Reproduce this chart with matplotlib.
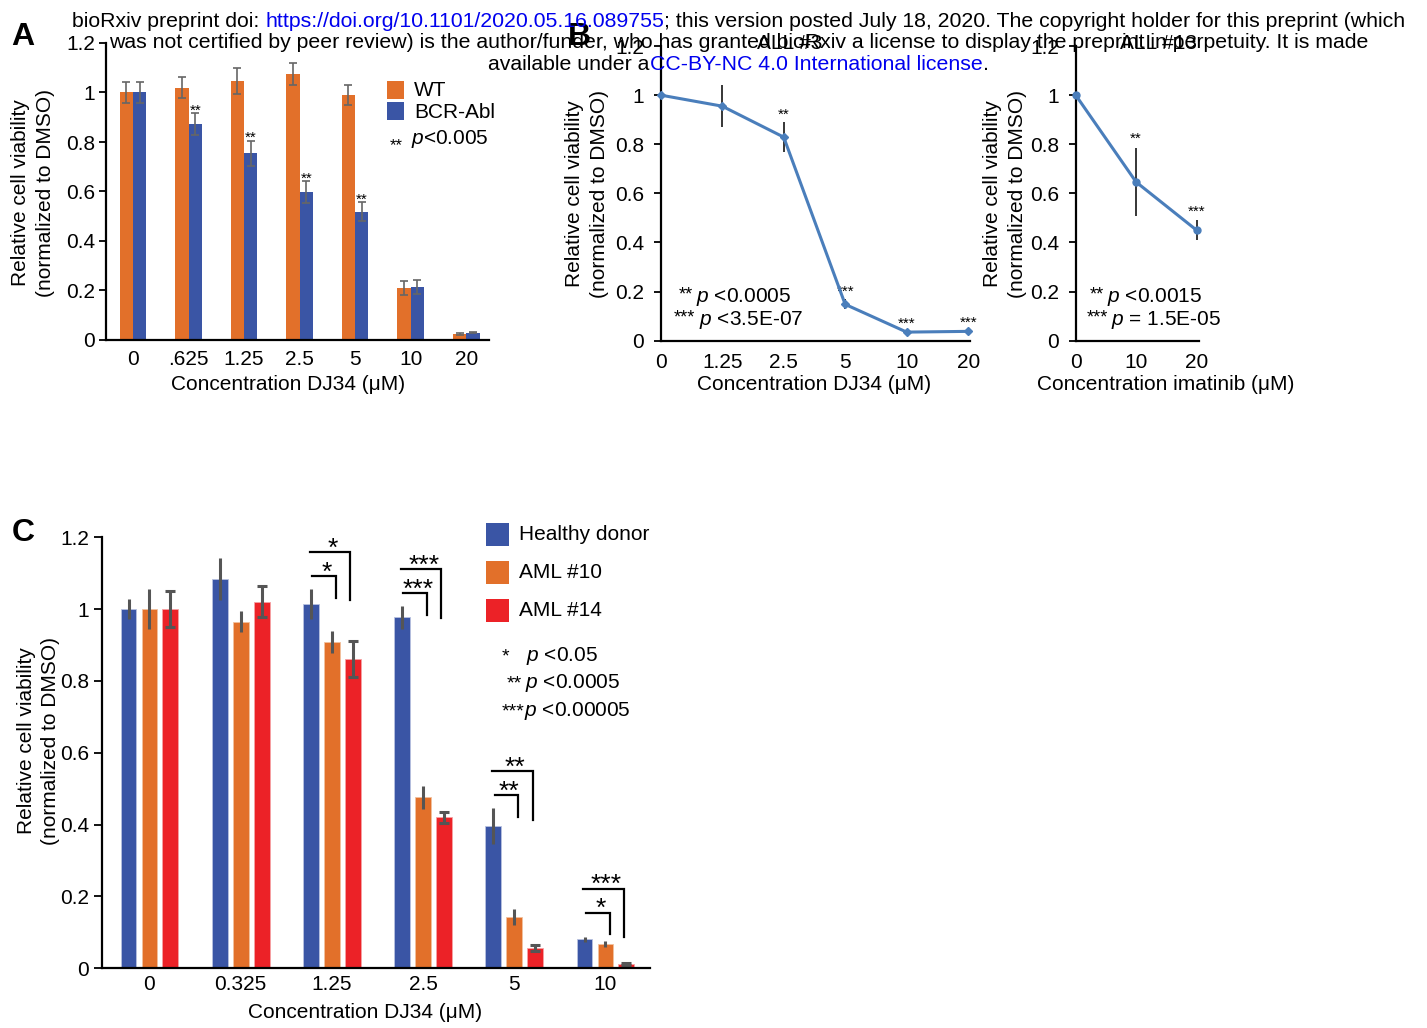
import matplotlib
matplotlib.use('Agg')
import matplotlib.pyplot as plt
from matplotlib.patches import Rectangle
from matplotlib.transforms import IdentityTransform
import numpy as np

plt.rcParams['font.family'] = ['Liberation Sans', 'DejaVu Sans']
plt.rcParams['mathtext.fontset'] = 'custom'
plt.rcParams['mathtext.rm'] = 'Liberation Sans'
plt.rcParams['mathtext.it'] = 'Liberation Sans:italic'

# ---------------- data ----------------
# Panel A
conc_A = ["0", ".625", "1.25", "2.5", "5", "10", "20"]
wt_A = [1.0, 1.02, 1.045, 1.075, 0.99, 0.21, 0.025]
wt_err_A = [0.042, 0.043, 0.052, 0.046, 0.04, 0.027, 0.003]
bcr_A = [1.0, 0.872, 0.754, 0.598, 0.518, 0.215, 0.03]
bcr_err_A = [0.042, 0.044, 0.052, 0.044, 0.038, 0.028, 0.003]
sig_A = ["", "**", "**", "**", "**", "", ""]

# Panel B (DJ34)
conc_B1 = ["0", "1.25", "2.5", "5", "10", "20"]
via_B1 = [1.0, 0.955, 0.829, 0.148, 0.035, 0.038]
err_B1 = [0.0, 0.085, 0.061, 0.02, 0.005, 0.005]
sig_B1 = ["", "", "**", "***", "***", "***"]

# Panel B (imatinib)
conc_B2 = ["0", "10", "20"]
via_B2 = [1.0, 0.646, 0.45]
err_B2 = [0.0, 0.14, 0.04]
sig_B2 = ["", "**", "***"]

# Panel C
conc_C = ["0", "0.325", "1.25", "2.5", "5", "10"]
healthy = [1.0, 1.083, 1.014, 0.977, 0.396, 0.081]
healthy_err = [0.027, 0.058, 0.043, 0.032, 0.051, 0.007]
aml10 = [1.0, 0.965, 0.909, 0.476, 0.142, 0.068]
aml10_err = [0.055, 0.03, 0.03, 0.032, 0.022, 0.009]
aml14 = [1.0, 1.021, 0.86, 0.42, 0.056, 0.012]
aml14_err = [0.05, 0.044, 0.05, 0.016, 0.008, 0.004]
# significance brackets: (group index, inner label, outer label)
brackets_C = [(2, "*", "*"), (3, "***", "***"), (4, "**", "**"), (5, "*", "***")]

yticks = [0, 0.2, 0.4, 0.6, 0.8, 1.0, 1.2]
ytick_labels = ["0", "0.2", "0.4", "0.6", "0.8", "1", "1.2"]

# ---------------- styles ----------------
ORANGE = '#E2702A'
BLUE = '#3A55A5'
RED = '#EC2227'
LINE = '#4A7EBB'
LINK = '#0000EE'
FS = 15

W, H = 1427, 1028
fig = plt.figure(figsize=(W / 100, H / 100), dpi=100)


def ax_px(l, t, r, b):
    return fig.add_axes([l / W, 1 - b / H, (r - l) / W, (b - t) / H])


def txt(x, y, s, **kw):
    return fig.text(x / W, 1 - y / H, s, **kw)


def rect(x0, y0, x1, y1, color):
    fig.add_artist(Rectangle((x0 / W, 1 - y1 / H), (x1 - x0) / W, (y1 - y0) / H,
                             transform=fig.transFigure, color=color, lw=0))


def style(ax, ypad):
    for s in ['top', 'right']:
        ax.spines[s].set_visible(False)
    for s in ['left', 'bottom']:
        ax.spines[s].set_linewidth(1.6)
    ax.set_ylim(0, 1.2)
    ax.set_yticks(yticks)
    ax.set_yticklabels(ytick_labels)
    ax.tick_params(axis='y', direction='out', length=5, width=1.3, labelsize=FS, pad=ypad)
    ax.tick_params(axis='x', length=0, labelsize=FS)
    ax.patch.set_alpha(0)


YLAB = "Relative cell viability\n(normalized to DMSO)"

# ---------------- Panel A ----------------
axA = ax_px(106, 43, 489, 340)
style(axA, 3)
xA = np.arange(len(conc_A))
ekA = dict(ecolor='#666666', elinewidth=1.2, capsize=3, capthick=1.2)
axA.bar(xA - 0.12, wt_A, 0.24, color=ORANGE, yerr=wt_err_A, error_kw=ekA)
axA.bar(xA + 0.12, bcr_A, 0.24, color=BLUE, yerr=bcr_err_A, error_kw=ekA)
axA.set_xlim(-0.486, 6.41)
axA.set_xticks(xA)
axA.set_xticklabels(conc_A)
axA.tick_params(axis='x', pad=7)
for i, s in enumerate(sig_A):
    if s:
        axA.text(i + 0.12, bcr_A[i] + bcr_err_A[i] - 0.005, s, ha='center', va='baseline',
                 fontsize=11)
txt(288.5, 385, "Concentration DJ34 (μM)", ha='center', va='center', fontsize=FS)
txt(33, 193, YLAB, rotation=90, ha='center', va='center', multialignment='center',
    fontsize=FS, linespacing=1.35)
# legend A
rect(387, 81, 404, 99, ORANGE)
rect(387, 102, 404, 120, BLUE)
txt(414, 90, "WT", ha='left', va='center', fontsize=FS)
txt(414, 112, "BCR-Abl", ha='left', va='center', fontsize=FS)
txt(403, 150, "**", ha='right', va='baseline', fontsize=12)
txt(411, 144, r"$p$<0.005", ha='left', va='baseline', fontsize=FS)

# ---------------- Panel B (DJ34) ----------------
axB1 = ax_px(660.7, 46, 970, 340.7)
style(axB1, 7)
xB1 = np.arange(len(conc_B1))
axB1.errorbar(xB1, via_B1, yerr=err_B1, color=LINE, lw=2.2, marker='D', ms=4.5,
              ecolor='black', elinewidth=1.1, capsize=0, clip_on=False, zorder=3)
axB1.set_xlim(0, 5.03)
axB1.set_xticks(xB1)
axB1.set_xticklabels(conc_B1)
axB1.tick_params(axis='x', pad=9)
for i, s in enumerate(sig_B1):
    if s:
        axB1.text(i, via_B1[i] + err_B1[i] + 0.03, s, ha='center', va='center', fontsize=11)
txt(814, 385, "Concentration DJ34 (μM)", ha='center', va='center', fontsize=FS)
txt(587, 194, YLAB, rotation=90, ha='center', va='center', multialignment='center',
    fontsize=FS, linespacing=1.35)
txt(790, 49, "ALL #3", ha='center', va='baseline', fontsize=FS)
txt(693, 299, "**", ha='right', va='baseline', fontsize=13)
txt(696, 301.5, r"$p$ <0.0005", ha='left', va='baseline', fontsize=FS)
txt(695, 322, "***", ha='right', va='baseline', fontsize=13)
txt(699, 325, r"$p$ <3.5E-07", ha='left', va='baseline', fontsize=FS)

# ---------------- Panel B (imatinib) ----------------
axB2 = ax_px(1075.7, 46, 1199, 340.7)
style(axB2, 7)
xB2 = np.arange(len(conc_B2))
axB2.errorbar(xB2, via_B2, yerr=err_B2, color=LINE, lw=2.2, marker='o', ms=5,
              ecolor='black', elinewidth=1.1, capsize=0, clip_on=False, zorder=3)
axB2.set_xlim(0, 2.04)
axB2.set_xticks(xB2)
axB2.set_xticklabels(conc_B2)
axB2.tick_params(axis='x', pad=9)
for i, s in enumerate(sig_B2):
    if s:
        axB2.text(i, via_B2[i] + err_B2[i] + 0.035, s, ha='center', va='center', fontsize=11)
txt(1166, 385, "Concentration imatinib (μM)", ha='center', va='center', fontsize=FS)
txt(1005, 194, YLAB, rotation=90, ha='center', va='center', multialignment='center',
    fontsize=FS, linespacing=1.35)
txt(1159, 49, "ALL #13", ha='center', va='baseline', fontsize=FS)
txt(1104, 299, "**", ha='right', va='baseline', fontsize=13)
txt(1107, 301.5, r"$p$ <0.0015", ha='left', va='baseline', fontsize=FS)
txt(1108, 322, "***", ha='right', va='baseline', fontsize=13)
txt(1111, 325, r"$p$ = 1.5E-05", ha='left', va='baseline', fontsize=FS)

# ---------------- Panel C ----------------
axC = ax_px(101.7, 537.2, 650, 968.3)
style(axC, 3)
axC.tick_params(axis='y', length=6)
xC = np.arange(len(conc_C))
bw, off = 0.175, 0.23
ek_nocap = dict(ecolor='#555555', elinewidth=2.2, capsize=0)
ek_cap = dict(ecolor='#555555', elinewidth=2.2, capsize=3.5, capthick=2.2)
axC.bar(xC - off, healthy, bw, color=BLUE, yerr=healthy_err, error_kw=ek_nocap,
        edgecolor='#B8C2E0', linewidth=0.6)
axC.bar(xC, aml10, bw, color=ORANGE, yerr=aml10_err, error_kw=ek_nocap,
        edgecolor='#F2C19E', linewidth=0.6)
axC.bar(xC + off, aml14, bw, color=RED, yerr=aml14_err, error_kw=ek_cap,
        edgecolor='#F5A3A5', linewidth=0.6)
axC.set_xlim(-0.524, 5.488)
axC.set_xticks(xC)
axC.set_xticklabels(conc_C)
axC.tick_params(axis='x', pad=5)
for g, lab_in, lab_out in brackets_C:
    base = max(healthy[g] + healthy_err[g], 0.12)
    y_in = base + 0.035
    y_out = y_in + 0.067
    xl_in, xr_in = g - off + 0.015, g + 0.045
    xl_out, xr_out = g - off - 0.015, g + off - 0.03
    axC.plot([xl_in, xr_in, xr_in], [y_in, y_in, y_in - 0.06], color='black', lw=1.6,
             clip_on=False, solid_joinstyle='miter')
    axC.plot([xl_out, xr_out, xr_out], [y_out, y_out, y_out - 0.135], color='black', lw=1.6,
             clip_on=False, solid_joinstyle='miter')
    axC.text((xl_in + xr_in) / 2 + 0.03, y_in - 0.01, lab_in, ha='center', va='baseline',
             fontsize=19)
    axC.text((xl_out + xr_out) / 2 + 0.03, y_out - 0.01, lab_out, ha='center', va='baseline',
             fontsize=19)
txt(365, 1012, "Concentration DJ34 (μM)", ha='center', va='center', fontsize=FS)
txt(38.5, 741, YLAB, rotation=90, ha='center', va='center', multialignment='center',
    fontsize=FS, linespacing=1.35)
# legend C
rect(486, 523, 509, 546, BLUE)
rect(486, 561, 509, 584, ORANGE)
rect(486, 599, 509, 622, RED)
txt(519, 535, "Healthy donor", ha='left', va='center', fontsize=FS)
txt(519, 572, "AML #10", ha='left', va='center', fontsize=FS)
txt(519, 610, "AML #14", ha='left', va='center', fontsize=FS)
txt(502, 661, "*", ha='left', va='baseline', fontsize=14)
txt(526, 661, r"$p$ <0.05", ha='left', va='baseline', fontsize=FS)
txt(522, 688, "**", ha='right', va='baseline', fontsize=14)
txt(525, 688, r"$p$ <0.0005", ha='left', va='baseline', fontsize=FS)
txt(502, 716.5, "***", ha='left', va='baseline', fontsize=14)
txt(524, 716.5, r"$p$ <0.00005", ha='left', va='baseline', fontsize=FS)

# ---------------- panel letters ----------------
txt(23, 45, "A", ha='center', va='baseline', fontsize=23, fontweight='bold')
txt(579, 45, "B", ha='center', va='baseline', fontsize=23, fontweight='bold')
txt(23, 541, "C", ha='center', va='baseline', fontsize=23, fontweight='bold')

# ---------------- header (bioRxiv stamp) ----------------
renderer = fig.canvas.get_renderer()


def width_of(s, size):
    t = fig.text(0, 0, s, fontsize=size)
    w = t.get_window_extent(renderer).width
    t.remove()
    return w


header_lines = [
    [("bioRxiv preprint doi:", 'black'), (" ", None),
     ("https://doi.org/10.1101/2020.05.16.089755", LINK),
     ("; this version posted July 18, 2020. The copyright holder for this preprint (which", 'black')],
    [("was not certified by peer review) is the author/funder, who has granted bioRxiv a license "
      "to display the preprint in perpetuity. It is made", 'black')],
    [("available under a", 'black'), ("CC-BY-NC 4.0 International license", LINK), (".", 'black')],
]
header_baselines = [26.7, 48.3, 69.5]

ref_size = 10.0
space_w_ref = width_of("a a", ref_size) - width_of("aa", ref_size)


def line_width(pieces, size):
    sw = space_w_ref * size / ref_size
    return sum(sw if c is None else width_of(s, size) for s, c in pieces)


hsize = ref_size * 1340.0 / line_width(header_lines[0], ref_size)
for pieces, yb in zip(header_lines, header_baselines):
    total = line_width(pieces, hsize)
    x = 738.5 - total / 2
    sw = space_w_ref * hsize / ref_size
    for s, c in pieces:
        if c is None:
            x += sw
            continue
        t = fig.text(x, H - yb, s, color=c, fontsize=hsize, ha='left', va='baseline',
                     transform=IdentityTransform())
        x += t.get_window_extent(renderer).width

fig.savefig('out.png', dpi=100)
